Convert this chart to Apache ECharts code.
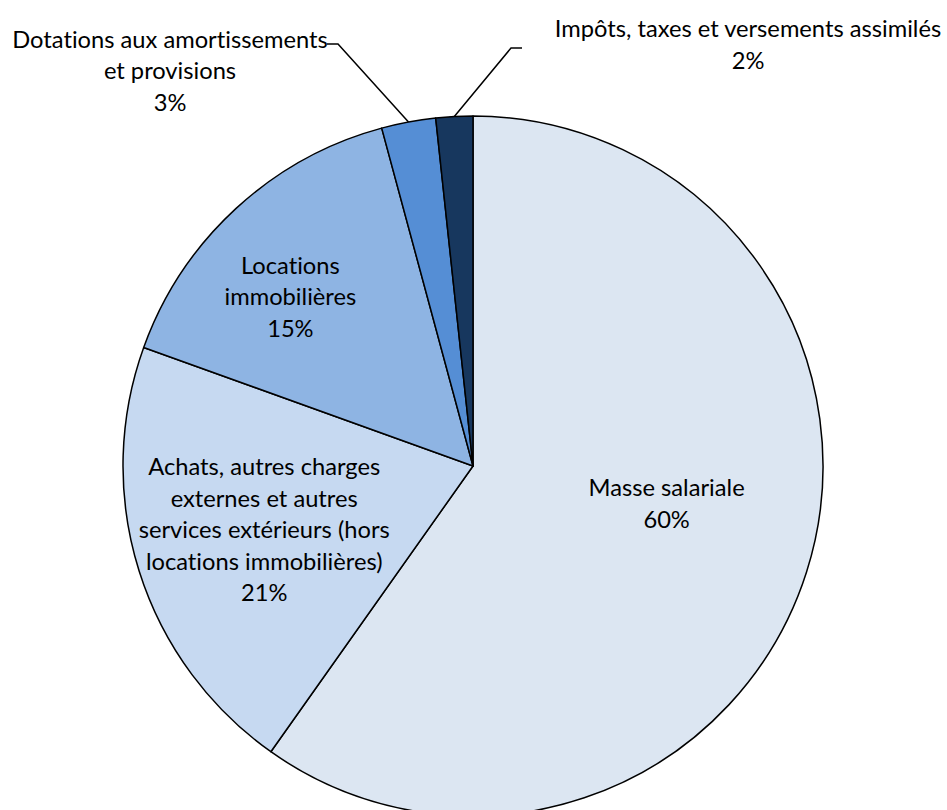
<!DOCTYPE html>
<html><head><meta charset="utf-8">
<script src="https://cdn.jsdelivr.net/npm/echarts@6/dist/echarts.min.js"></script>
<style>html,body{margin:0;padding:0;background:#fff}
#c{width:947px;height:810px;font-variant-ligatures:none;font-feature-settings:"liga" 0,"clig" 0}
#c text{font-variant-ligatures:none;font-feature-settings:"liga" 0,"clig" 0}</style>
</head><body><div id="c"></div>
<script>
// ---- data ----
const categories = [
  'Masse salariale',
  'Achats, autres charges\nexternes et autres\nservices extérieurs (hors\nlocations immobilières)',
  'Locations\nimmobilières',
  'Dotations aux amortissements\net provisions',
  'Impôts, taxes et versements assimilés'
];
const values = [59.8, 20.7, 15.3, 2.5, 1.7];

// ---- style ----
const colors = ['#DCE6F2', '#C6D9F1', '#8EB4E3', '#558ED5', '#17375E'];
const CX = 473, CY = 466, R = 350;
const FONT = 'Lato';
const FS = 23.7;
const LH = 31.5;
// inside label nudges (dx, dy)
const insideOffsets = [[24, -17], [-39, 10], [-62, -39]];
// outside label centres and leader-line geometry (style)
const outsideCenters = {3: [170, 70], 4: [748, 44]};
const outsideLeaders = {3: [[338, 44], [327, 44]], 4: [[511, 48], [522, 48]]};

const total = values.reduce((a, b) => a + b, 0);
function anchorFor(i) {
  let cum = 0;
  for (let k = 0; k < i; k++) cum += values[k];
  const mid = (cum + values[i] / 2) / total;
  const th = (90 - mid * 360) * Math.PI / 180;
  return [CX + R * Math.cos(th), CY - R * Math.sin(th)];
}

const chart = echarts.init(document.getElementById('c'), null, {renderer: 'svg'});
const data = categories.map((name, i) => {
  const outside = i >= 3;
  return {
    name: name,
    value: values[i],
    itemStyle: {color: colors[i]},
    label: {position: outside ? 'outside' : 'inside'},
    labelLine: {show: outside}
  };
});

chart.setOption({
  animation: false,
  series: [{
    type: 'pie',
    center: [CX, CY],
    radius: R,
    startAngle: 90,
    clockwise: true,
    avoidLabelOverlap: false,
    emphasis: {disabled: true},
    itemStyle: {borderColor: '#000', borderWidth: 1.5},
    label: {
      color: '#000',
      fontFamily: FONT,
      fontSize: FS,
      lineHeight: LH,
      align: 'center',
      formatter: p => p.name + '\n' + Math.round(p.value / total * 100) + '%'
    },
    labelLine: {lineStyle: {color: '#000', width: 1.5}, length: 20, length2: 10},
    labelLayout: function (params) {
      const i = params.dataIndex;
      if (i < 3) {
        return {dx: insideOffsets[i][0], dy: insideOffsets[i][1]};
      }
      const c = outsideCenters[i];
      const a = anchorFor(i);
      return {
        x: c[0], y: c[1], align: 'center', verticalAlign: 'middle',
        labelLinePoints: [a, outsideLeaders[i][0], outsideLeaders[i][1]]
      };
    },
    data: data
  }]
});
</script>
</body></html>
